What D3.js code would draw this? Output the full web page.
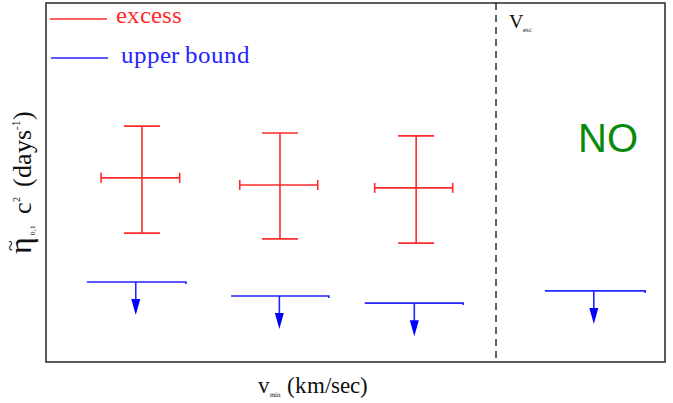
<!DOCTYPE html>
<html>
<head>
<meta charset="utf-8">
<script src="https://cdn.jsdelivr.net/npm/d3@7"></script>
<style>
  @font-face {
    font-family: "PlotSerif";
    src: local("Liberation Serif"), local("LiberationSerif-Regular"), local("LiberationSerif"), local("DejaVu Serif"), local("DejaVuSerif");
  }
  html, body { margin: 0; padding: 0; background: #fff; }
  svg { display: block; }
</style>
</head>
<body>
<svg id="chart" width="673" height="403"></svg>
<script>
// v_min bins (km/s) and measured modulation amplitudes (arbitrary units)
const excessVmin   = [155, 378, 598];
const excessVLo    = [89, 313, 531];
const excessVHi    = [216, 439, 657];
const excessEta    = [5.13, 4.93, 4.85];
const excessEtaLo  = [3.59, 3.43, 3.31];
const excessEtaHi  = [6.57, 6.38, 6.30];

const boundVmin    = [145, 377, 595, 885];
const boundVLo     = [66, 299, 515, 806];
const boundVHi     = [226, 457, 674, 968];
const boundEta     = [2.23, 1.84, 1.64, 1.98];

const vEsc = 727;
const legendLabels = ["excess", "upper bound"];

const SERIF = "PlotSerif, 'Liberation Serif', 'DejaVu Serif', serif";
const svg = d3.select("#chart").style("font-family", SERIF);
const margin = { left: 46, top: 3, right: 8, bottom: 41 };
const W = 673, H = 403;

const x = d3.scaleLinear().domain([0, 1000]).range([margin.left, W - margin.right]);
const y = d3.scaleLinear().domain([0, 10]).range([H - margin.bottom, margin.top]);

const RED = "#ff2a2a", BLUE = "#2424ff";

function serifText(sel) {
  return sel.style("font-family", SERIF);
}

// plot frame
svg.append("rect")
  .attr("x", x(0)).attr("y", y(10))
  .attr("width", x(1000) - x(0)).attr("height", y(0) - y(10))
  .attr("fill", "none").attr("stroke", "#333").attr("stroke-width", 1.6);

// escape velocity marker
svg.append("line")
  .attr("x1", x(vEsc)).attr("x2", x(vEsc))
  .attr("y1", y(10)).attr("y2", y(0))
  .attr("stroke", "#111").attr("stroke-width", 1.3)
  .attr("stroke-dasharray", "7,5");

const vesc = serifText(svg.append("text")).attr("x", x(vEsc) + 13).attr("y", 28)
  .attr("font-size", 20).attr("fill", "#111");
vesc.append("tspan").text("V");
vesc.append("tspan").attr("font-size", 7).attr("dy", 4).text("esc");

// excess points with error bars
const cap = 18, tick = 5;
const ex = svg.append("g").attr("stroke", RED).attr("stroke-width", 1.6).attr("fill", "none");
excessVmin.forEach((v, i) => {
  const g = ex.append("g");
  g.append("line").attr("x1", x(v)).attr("x2", x(v)).attr("y1", y(excessEtaHi[i])).attr("y2", y(excessEtaLo[i]));
  g.append("line").attr("x1", x(v) - cap).attr("x2", x(v) + cap).attr("y1", y(excessEtaHi[i])).attr("y2", y(excessEtaHi[i]));
  g.append("line").attr("x1", x(v) - cap).attr("x2", x(v) + cap).attr("y1", y(excessEtaLo[i])).attr("y2", y(excessEtaLo[i]));
  g.append("line").attr("x1", x(excessVLo[i])).attr("x2", x(excessVHi[i])).attr("y1", y(excessEta[i])).attr("y2", y(excessEta[i]));
  g.append("line").attr("x1", x(excessVLo[i])).attr("x2", x(excessVLo[i])).attr("y1", y(excessEta[i]) - tick).attr("y2", y(excessEta[i]) + tick);
  g.append("line").attr("x1", x(excessVHi[i])).attr("x2", x(excessVHi[i])).attr("y1", y(excessEta[i]) - tick).attr("y2", y(excessEta[i]) + tick);
});

// upper bounds with downward arrows
const arrowLen = 0.92;
const ub = svg.append("g");
boundVmin.forEach((v, i) => {
  const g = ub.append("g");
  const yy = y(boundEta[i]);
  g.append("path")
    .attr("d", `M${x(boundVLo[i])},${yy}H${x(boundVHi[i])}v2`)
    .attr("stroke", BLUE).attr("stroke-width", 1.6).attr("fill", "none");
  const yTip = y(boundEta[i] - arrowLen);
  g.append("line").attr("x1", x(v)).attr("x2", x(v)).attr("y1", yy).attr("y2", yTip - 12)
    .attr("stroke", BLUE).attr("stroke-width", 1.6);
  g.append("path")
    .attr("d", `M${x(v) - 4.5},${yTip - 16}L${x(v) + 4.5},${yTip - 16}L${x(v)},${yTip}Z`)
    .attr("fill", "#0000ff");
});

// legend
const leg = [
  { label: legendLabels[0], color: RED, yl: 19, x1: 50, x2: 107, tx: 116, ty: 23 },
  { label: legendLabels[1], color: BLUE, yl: 58, x1: 51, x2: 108, tx: 121, ty: 63 }
];
leg.forEach(d => {
  svg.append("line").attr("x1", d.x1).attr("x2", d.x2).attr("y1", d.yl).attr("y2", d.yl)
    .attr("stroke", d.color).attr("stroke-width", 1.5);
  serifText(svg.append("text")).attr("x", d.tx).attr("y", d.ty).attr("font-size", 25)
    .attr("fill", d.color).text(d.label);
});

// "NO" annotation beyond the escape velocity
svg.append("text").attr("x", 608).attr("y", 152).attr("text-anchor", "middle")
  .style("font-family", "'Liberation Sans', Arial, sans-serif")
  .attr("font-size", 40).attr("fill", "#0a8a0a").text("NO");

// x-axis title
const xt = serifText(svg.append("text")).attr("x", 313).attr("y", 393).attr("text-anchor", "middle")
  .attr("font-size", 23).attr("fill", "#111");
xt.append("tspan").text("v");
xt.append("tspan").attr("font-size", 7).attr("dy", 4).text("min");
xt.append("tspan").attr("dy", -4).text(" (km/sec)");

// y-axis title (rotated); the tilde is set above the eta separately
const yg = svg.append("g").attr("transform", "translate(31,254) rotate(-90)");
const yt = serifText(yg.append("text")).attr("x", 0).attr("y", 0)
  .attr("font-size", 26).attr("fill", "#111");
yt.append("tspan").attr("font-size", 32).text("\u03B7");
yt.append("tspan").attr("font-size", 7).attr("dx", 2).attr("dy", 4).text("0,1");
yt.append("tspan").attr("dx", 4).attr("dy", -4).text(" c");
yt.append("tspan").attr("font-size", 10).attr("dy", -11).text("2");
yt.append("tspan").attr("dx", 3).attr("dy", 11).text(" (days");
yt.append("tspan").attr("font-size", 11).attr("dy", -11).text("-1");
yt.append("tspan").attr("dy", 11).text(")");
serifText(yg.append("text")).attr("x", 3).attr("y", -14)
  .attr("font-size", 20).attr("fill", "#111").text("~");
</script>
</body>
</html>
